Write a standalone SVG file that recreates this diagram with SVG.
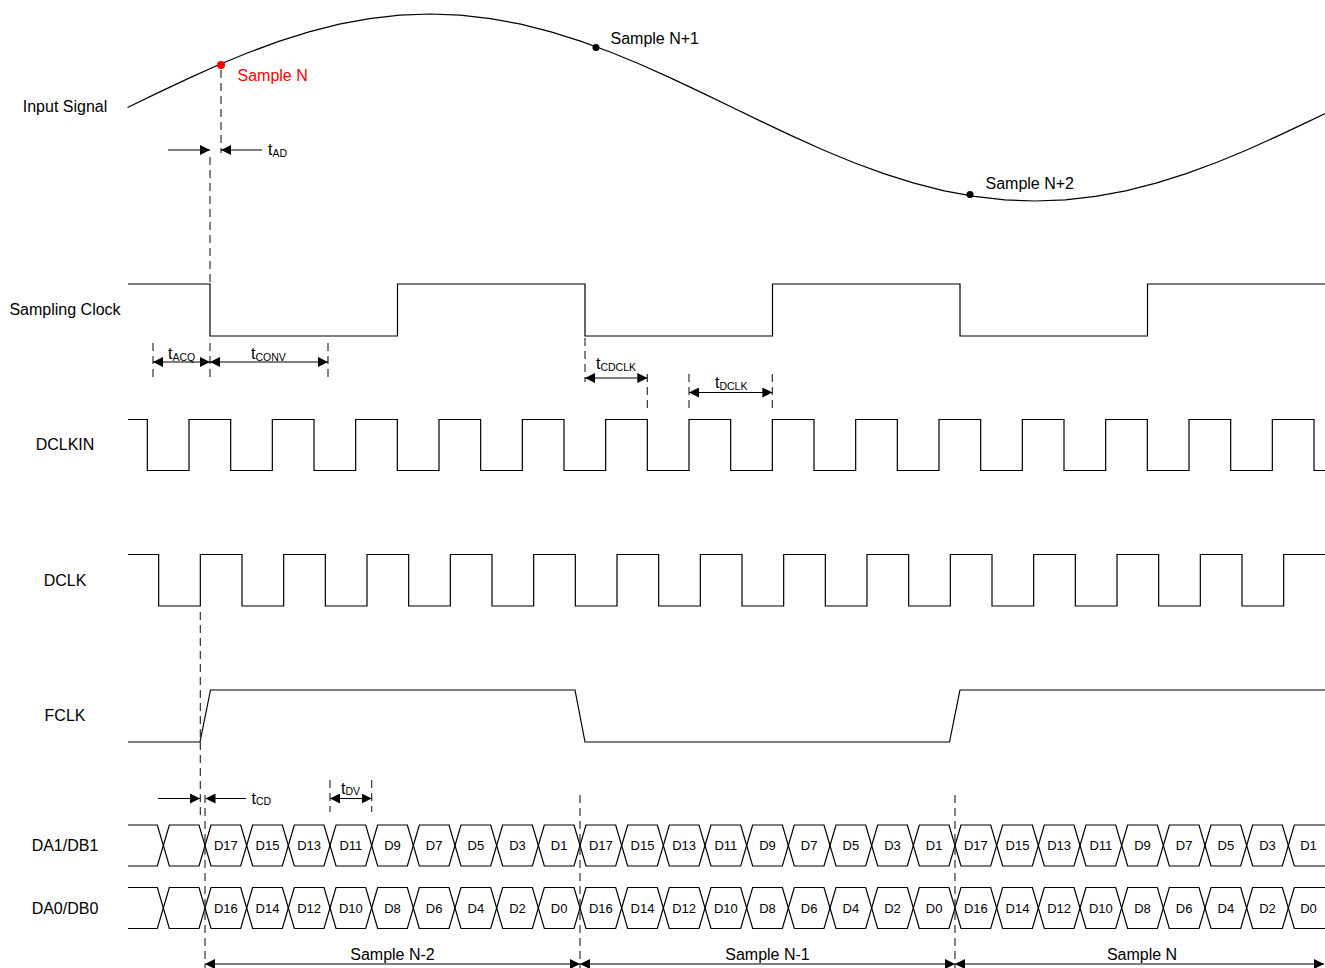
<svg xmlns="http://www.w3.org/2000/svg" width="1325" height="968" viewBox="0 0 1325 968">
<style>
text{font-family:"Liberation Sans",Arial,sans-serif;fill:#000}
.lbl{font-size:16px;text-anchor:middle}
.smp{font-size:16px}
.t{font-size:16px}
.sub{font-size:10.5px}
.d{font-size:13px;text-anchor:middle}
.w{fill:none;stroke:#000;stroke-width:1.2}
.dash{fill:none;stroke:#333;stroke-width:1.2;stroke-dasharray:8,5}
.arr{fill:none;stroke:#000;stroke-width:1.2;marker-end:url(#ah)}
.arr2{fill:none;stroke:#000;stroke-width:1.2;marker-start:url(#ah);marker-end:url(#ah)}
</style>
<defs>
<marker id="ah" markerUnits="userSpaceOnUse" markerWidth="10" markerHeight="10" refX="10" refY="5" orient="auto-start-reverse"><path d="M0,0 L10,5 L0,10 Z" fill="#000"/></marker>
<path id="seg" d="M0,20.5 L6,0 L35.67,0 L41.67,20.5 L35.67,41 L6,41 Z" fill="none" stroke="#000" stroke-width="1.2"/>
</defs>

<g id="labels">
<text class="lbl" x="65" y="111.5">Input Signal</text>
<text class="lbl" x="65" y="314.5">Sampling Clock</text>
<text class="lbl" x="65" y="449.5">DCLKIN</text>
<text class="lbl" x="65" y="585.5">DCLK</text>
<text class="lbl" x="65" y="720.5">FCLK</text>
<text class="lbl" x="65" y="850.5">DA1/DB1</text>
<text class="lbl" x="65" y="913.5">DA0/DB0</text>
</g>

<g id="input-signal">
<polyline class="w" points="127.5,107.5 157.75,92.87 188,78.61 218.25,65.05 248.5,52.54 278.75,41.39 309,31.86 339.25,24.19 369.5,18.57 399.75,15.15 430,14 460.25,15.15 490.5,18.57 520.75,24.19 551,31.86 581.25,41.39 611.5,52.54 641.75,65.05 672,78.61 702.25,92.87 732.5,107.5 762.75,122.13 793,136.39 823.25,149.95 853.5,162.46 883.75,173.61 914,183.14 944.25,190.81 974.5,196.43 1004.75,199.85 1035,201 1065.25,199.85 1095.5,196.43 1125.75,190.81 1156,183.14 1186.25,173.61 1216.5,162.46 1246.75,149.95 1277,136.39 1307.25,122.13 1337.5,107.5"/>
<circle cx="221" cy="65" r="4" fill="#f00"/>
<text class="smp" x="237.5" y="81" style="fill:#f00">Sample N</text>
<circle cx="596" cy="47.5" r="3.5" fill="#000"/>
<text class="smp" x="610.5" y="44">Sample N+1</text>
<circle cx="970" cy="194.5" r="3.5" fill="#000"/>
<text class="smp" x="985.5" y="189">Sample N+2</text>
</g>

<g id="sampling-clock">
<path class="w" d="M128,284 H210 V336 H397.5 V284 H585 V336 H772.5 V284 H960 V336 H1147.5 V284 H1325"/>
</g>

<g id="dclkin">
<path class="w" d="M128,419.5 H147.33 V470.5 H189 V419.5 H230.67 V470.5 H272.33 V419.5 H314 V470.5 H355.67 V419.5 H397.33 V470.5 H439 V419.5 H480.67 V470.5 H522.33 V419.5 H564 V470.5 H605.67 V419.5 H647.33 V470.5 H689 V419.5 H730.67 V470.5 H772.33 V419.5 H814 V470.5 H855.67 V419.5 H897.33 V470.5 H939 V419.5 H980.67 V470.5 H1022.33 V419.5 H1064 V470.5 H1105.67 V419.5 H1147.33 V470.5 H1189 V419.5 H1230.67 V470.5 H1272.33 V419.5 H1314 V470.5 H1325"/>
</g>

<g id="dclk">
<path class="w" d="M128,554.5 H158.67 V606 H200.33 V554.5 H242 V606 H283.67 V554.5 H325.33 V606 H367 V554.5 H408.67 V606 H450.33 V554.5 H492 V606 H533.67 V554.5 H575.33 V606 H617 V554.5 H658.67 V606 H700.33 V554.5 H742 V606 H783.67 V554.5 H825.33 V606 H867 V554.5 H908.67 V606 H950.33 V554.5 H992 V606 H1033.67 V554.5 H1075.33 V606 H1117 V554.5 H1158.67 V606 H1200.33 V554.5 H1242 V606 H1283.67 V554.5 H1325"/>
</g>

<g id="fclk">
<path class="w" d="M128,742 H200 L210.5,690 H575 L585,742 H949.5 L960,690 H1325"/>
</g>

<g id="da1">
<path class="w" d="M128,825 H157.33 L163.33,845.5 L157.33,866 H128"/>
<use href="#seg" x="163.33" y="825"/><use href="#seg" x="205" y="825"/><use href="#seg" x="246.67" y="825"/><use href="#seg" x="288.33" y="825"/><use href="#seg" x="330" y="825"/><use href="#seg" x="371.67" y="825"/><use href="#seg" x="413.33" y="825"/><use href="#seg" x="455" y="825"/><use href="#seg" x="496.67" y="825"/><use href="#seg" x="538.33" y="825"/><use href="#seg" x="580" y="825"/><use href="#seg" x="621.67" y="825"/><use href="#seg" x="663.33" y="825"/><use href="#seg" x="705" y="825"/><use href="#seg" x="746.67" y="825"/><use href="#seg" x="788.33" y="825"/><use href="#seg" x="830" y="825"/><use href="#seg" x="871.67" y="825"/><use href="#seg" x="913.33" y="825"/><use href="#seg" x="955" y="825"/><use href="#seg" x="996.67" y="825"/><use href="#seg" x="1038.33" y="825"/><use href="#seg" x="1080" y="825"/><use href="#seg" x="1121.67" y="825"/><use href="#seg" x="1163.33" y="825"/><use href="#seg" x="1205" y="825"/><use href="#seg" x="1246.67" y="825"/>
<path class="w" d="M1325,825 H1294.33 L1288.33,845.5 L1294.33,866 H1325"/>
<text class="d" x="225.83" y="850">D17</text><text class="d" x="267.5" y="850">D15</text><text class="d" x="309.17" y="850">D13</text><text class="d" x="350.83" y="850">D11</text><text class="d" x="392.5" y="850">D9</text><text class="d" x="434.17" y="850">D7</text><text class="d" x="475.83" y="850">D5</text><text class="d" x="517.5" y="850">D3</text><text class="d" x="559.17" y="850">D1</text>
<text class="d" x="600.83" y="850">D17</text><text class="d" x="642.5" y="850">D15</text><text class="d" x="684.17" y="850">D13</text><text class="d" x="725.83" y="850">D11</text><text class="d" x="767.5" y="850">D9</text><text class="d" x="809.17" y="850">D7</text><text class="d" x="850.83" y="850">D5</text><text class="d" x="892.5" y="850">D3</text><text class="d" x="934.17" y="850">D1</text>
<text class="d" x="975.83" y="850">D17</text><text class="d" x="1017.5" y="850">D15</text><text class="d" x="1059.17" y="850">D13</text><text class="d" x="1100.83" y="850">D11</text><text class="d" x="1142.5" y="850">D9</text><text class="d" x="1184.17" y="850">D7</text><text class="d" x="1225.83" y="850">D5</text><text class="d" x="1267.5" y="850">D3</text><text class="d" x="1308.5" y="850">D1</text>
</g>

<g id="da0">
<path class="w" d="M128,887.5 H157.33 L163.33,908 L157.33,928.5 H128"/>
<use href="#seg" x="163.33" y="887.5"/><use href="#seg" x="205" y="887.5"/><use href="#seg" x="246.67" y="887.5"/><use href="#seg" x="288.33" y="887.5"/><use href="#seg" x="330" y="887.5"/><use href="#seg" x="371.67" y="887.5"/><use href="#seg" x="413.33" y="887.5"/><use href="#seg" x="455" y="887.5"/><use href="#seg" x="496.67" y="887.5"/><use href="#seg" x="538.33" y="887.5"/><use href="#seg" x="580" y="887.5"/><use href="#seg" x="621.67" y="887.5"/><use href="#seg" x="663.33" y="887.5"/><use href="#seg" x="705" y="887.5"/><use href="#seg" x="746.67" y="887.5"/><use href="#seg" x="788.33" y="887.5"/><use href="#seg" x="830" y="887.5"/><use href="#seg" x="871.67" y="887.5"/><use href="#seg" x="913.33" y="887.5"/><use href="#seg" x="955" y="887.5"/><use href="#seg" x="996.67" y="887.5"/><use href="#seg" x="1038.33" y="887.5"/><use href="#seg" x="1080" y="887.5"/><use href="#seg" x="1121.67" y="887.5"/><use href="#seg" x="1163.33" y="887.5"/><use href="#seg" x="1205" y="887.5"/><use href="#seg" x="1246.67" y="887.5"/>
<path class="w" d="M1325,887.5 H1294.33 L1288.33,908 L1294.33,928.5 H1325"/>
<text class="d" x="225.83" y="912.5">D16</text><text class="d" x="267.5" y="912.5">D14</text><text class="d" x="309.17" y="912.5">D12</text><text class="d" x="350.83" y="912.5">D10</text><text class="d" x="392.5" y="912.5">D8</text><text class="d" x="434.17" y="912.5">D6</text><text class="d" x="475.83" y="912.5">D4</text><text class="d" x="517.5" y="912.5">D2</text><text class="d" x="559.17" y="912.5">D0</text>
<text class="d" x="600.83" y="912.5">D16</text><text class="d" x="642.5" y="912.5">D14</text><text class="d" x="684.17" y="912.5">D12</text><text class="d" x="725.83" y="912.5">D10</text><text class="d" x="767.5" y="912.5">D8</text><text class="d" x="809.17" y="912.5">D6</text><text class="d" x="850.83" y="912.5">D4</text><text class="d" x="892.5" y="912.5">D2</text><text class="d" x="934.17" y="912.5">D0</text>
<text class="d" x="975.83" y="912.5">D16</text><text class="d" x="1017.5" y="912.5">D14</text><text class="d" x="1059.17" y="912.5">D12</text><text class="d" x="1100.83" y="912.5">D10</text><text class="d" x="1142.5" y="912.5">D8</text><text class="d" x="1184.17" y="912.5">D6</text><text class="d" x="1225.83" y="912.5">D4</text><text class="d" x="1267.5" y="912.5">D2</text><text class="d" x="1308.5" y="912.5">D0</text>
</g>

<g id="connectors">
<line class="dash" x1="221" y1="70" x2="221" y2="153"/>
<line class="dash" x1="210" y1="157" x2="210" y2="284"/>
<line class="dash" x1="153" y1="343" x2="153" y2="380"/>
<line class="dash" x1="210" y1="343" x2="210" y2="380"/>
<line class="dash" x1="328" y1="343" x2="328" y2="380"/>
<line class="dash" x1="585" y1="338" x2="585" y2="382"/>
<line class="dash" x1="647.33" y1="374" x2="647.33" y2="412"/>
<line class="dash" x1="689" y1="374" x2="689" y2="412"/>
<line class="dash" x1="772.33" y1="374" x2="772.33" y2="412"/>
<line class="dash" x1="200.33" y1="612" x2="200.33" y2="818"/>
<line class="dash" x1="205" y1="795" x2="205" y2="968"/>
<line class="dash" x1="330" y1="780" x2="330" y2="812"/>
<line class="dash" x1="371.67" y1="780" x2="371.67" y2="812"/>
<line class="dash" x1="580" y1="795" x2="580" y2="968"/>
<line class="dash" x1="955" y1="795" x2="955" y2="968"/>

<line class="arr" x1="168" y1="150" x2="210" y2="150"/>
<line class="arr" x1="262" y1="150" x2="221" y2="150"/>
<line class="arr2" x1="153" y1="362" x2="210" y2="362"/>
<line class="arr2" x1="210" y1="362" x2="328" y2="362"/>
<line class="arr2" x1="585" y1="378" x2="647.33" y2="378"/>
<line class="arr2" x1="689" y1="392.5" x2="772.33" y2="392.5"/>
<line class="arr" x1="158" y1="798.5" x2="200" y2="798.5"/>
<line class="arr" x1="246" y1="798.5" x2="205.5" y2="798.5"/>
<line class="arr2" x1="330" y1="798.5" x2="371.67" y2="798.5"/>
<line class="arr2" x1="205" y1="964" x2="580" y2="964"/>
<line class="arr2" x1="580" y1="964" x2="955" y2="964"/>
<line class="arr2" x1="955" y1="964" x2="1324" y2="964"/>
</g>

<g id="timing-labels">
<text class="t" x="268" y="155">t<tspan class="sub" dy="1.5">AD</tspan></text>
<text class="t" x="168" y="359">t<tspan class="sub" dy="1.5">ACQ</tspan></text>
<text class="t" x="251" y="359">t<tspan class="sub" dy="1.5">CONV</tspan></text>
<text class="t" x="596" y="369">t<tspan class="sub" dy="1.5">CDCLK</tspan></text>
<text class="t" x="715" y="388">t<tspan class="sub" dy="1.5">DCLK</tspan></text>
<text class="t" x="251.5" y="803.5">t<tspan class="sub" dy="1.5">CD</tspan></text>
<text class="t" x="341" y="793.5">t<tspan class="sub" dy="1.5">DV</tspan></text>
<text class="smp" x="392.5" y="960" text-anchor="middle">Sample N-2</text>
<text class="smp" x="767.5" y="960" text-anchor="middle">Sample N-1</text>
<text class="smp" x="1142" y="960" text-anchor="middle">Sample N</text>
</g>
</svg>
